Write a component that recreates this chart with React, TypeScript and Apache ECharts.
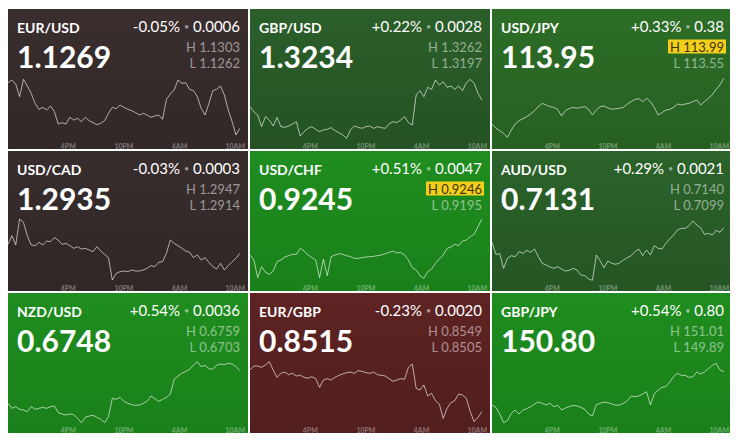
import React, { useEffect, useRef } from "react";
import * as echarts from "echarts";

const PAIRS = ["EUR/USD", "GBP/USD", "USD/JPY", "USD/CAD", "USD/CHF", "AUD/USD", "NZD/USD", "EUR/GBP", "GBP/JPY"];
const PRICES = ["1.1269", "1.3234", "113.95", "1.2935", "0.9245", "0.7131", "0.6748", "0.8515", "150.80"];
const CHANGE_PCT = ["-0.05%", "+0.22%", "+0.33%", "-0.03%", "+0.51%", "+0.29%", "+0.54%", "-0.23%", "+0.54%"];
const CHANGE_ABS = ["0.0006", "0.0028", "0.38", "0.0003", "0.0047", "0.0021", "0.0036", "0.0020", "0.80"];
const HIGHS = ["1.1303", "1.3262", "113.99", "1.2947", "0.9246", "0.7140", "0.6759", "0.8549", "151.01"];
const LOWS = ["1.1262", "1.3197", "113.55", "1.2914", "0.9195", "0.7099", "0.6703", "0.8505", "149.89"];
const HIGH_HIT = [false, false, true, false, true, false, false, false, false];

const TIME_TICKS = [6, 12, 18, 24];
const TIME_LABELS = ["4PM", "10PM", "4AM", "10AM"];

const BG_TOP = ["#3a2e2e", "#2b5f2a", "#2d6e27", "#382d2d", "#1f8d1f", "#2b632a", "#1f8d1f", "#5e2323", "#1f8d1f"];
const BG_BOTTOM = ["#322828", "#245224", "#266021", "#302727", "#1a801a", "#255524", "#1a801a", "#521e1e", "#1a801a"];

const Y_MIN = [1.1266, 1.3188, 113.53, 1.29118, 0.91897, 0.71038, 0.67034, 0.85116, 149.888];
const Y_MAX = [1.13074, 1.32708, 114.0475, 1.29532, 0.92518, 0.71452, 0.67655, 0.8553, 151.13];

const EURUSD = [
  1.13004, 1.1302, 1.12996, 1.1292, 1.13024, 1.12984, 1.1294, 1.1288, 1.12844, 1.12856,
  1.1284, 1.12864, 1.1283, 1.12756, 1.12764, 1.12756, 1.12796, 1.1278, 1.1279, 1.1277,
  1.12796, 1.12776, 1.12764, 1.12752, 1.1276, 1.12776, 1.1282, 1.12856, 1.12848, 1.1287,
  1.12856, 1.12844, 1.12836, 1.12824, 1.1281, 1.1282, 1.1281, 1.12796, 1.12804, 1.1281,
  1.12784, 1.12904, 1.12936, 1.1296, 1.1302, 1.13, 1.13004, 1.12964, 1.12956, 1.1292,
  1.1285, 1.1281, 1.1288, 1.12956, 1.12964, 1.12984, 1.1293, 1.1284, 1.1277, 1.1269,
  1.1273,
];
const GBPUSD = [
  1.3228, 1.3222, 1.3218, 1.3204, 1.3216, 1.3212, 1.32048, 1.32152, 1.3204, 1.32032,
  1.32048, 1.32072, 1.321, 1.31928, 1.3198, 1.3202, 1.3204, 1.32008, 1.3198, 1.32,
  1.32008, 1.32028, 1.31992, 1.31968, 1.3194, 1.319, 1.32, 1.32048, 1.32032, 1.3202,
  1.3204, 1.32048, 1.3202, 1.3204, 1.32028, 1.3202, 1.32072, 1.321, 1.32088, 1.3212,
  1.3216, 1.32088, 1.3206, 1.3242, 1.32472, 1.324, 1.32512, 1.32488, 1.326, 1.3254,
  1.3258, 1.32512, 1.32528, 1.32488, 1.32528, 1.32472, 1.32568, 1.32608, 1.3256, 1.3244,
  1.3236,
];
const USDJPY = [
  113.65, 113.618, 113.6, 113.58, 113.55, 113.605, 113.65, 113.675, 113.69, 113.705,
  113.725, 113.75, 113.78, 113.805, 113.793, 113.78, 113.775, 113.76, 113.71, 113.75,
  113.765, 113.775, 113.768, 113.775, 113.78, 113.76, 113.718, 113.755, 113.78, 113.785,
  113.77, 113.76, 113.765, 113.768, 113.775, 113.8, 113.818, 113.835, 113.84, 113.818,
  113.843, 113.818, 113.775, 113.718, 113.735, 113.755, 113.76, 113.775, 113.8, 113.793,
  113.8, 113.805, 113.818, 113.83, 113.793, 113.818, 113.843, 113.868, 113.91, 113.943,
  113.993,
];
const USDCAD = [
  1.29344, 1.29396, 1.2934, 1.29496, 1.29476, 1.29396, 1.2934, 1.29336, 1.29356, 1.2934,
  1.29364, 1.2936, 1.29384, 1.2937, 1.29344, 1.2935, 1.29336, 1.2932, 1.2933, 1.29316,
  1.2932, 1.2931, 1.293, 1.2933, 1.29304, 1.29284, 1.29264, 1.2913, 1.2917, 1.2918,
  1.29184, 1.2918, 1.2919, 1.29184, 1.29184, 1.2919, 1.292, 1.29216, 1.2921, 1.29236,
  1.2924, 1.2929, 1.2937, 1.2935, 1.29336, 1.2932, 1.29304, 1.29296, 1.29264, 1.2928,
  1.2925, 1.29264, 1.29236, 1.2921, 1.29196, 1.2923, 1.2919, 1.29216, 1.2924, 1.2926,
  1.2929,
];
const USDCHF = [
  0.9214, 0.92095, 0.91936, 0.92035, 0.91984, 0.91966, 0.91996, 0.9208, 0.92095, 0.92122,
  0.92134, 0.92146, 0.92146, 0.922, 0.92176, 0.9214, 0.92116, 0.92095, 0.91936, 0.92104,
  0.91954, 0.92125, 0.9214, 0.92152, 0.92146, 0.92134, 0.92125, 0.9211, 0.9211, 0.92116,
  0.92122, 0.92125, 0.92128, 0.92134, 0.9214, 0.92152, 0.92164, 0.92176, 0.92158, 0.92164,
  0.9214, 0.92095, 0.92026, 0.92005, 0.91954, 0.9193, 0.9199, 0.92014, 0.92065, 0.92104,
  0.9214, 0.922, 0.92212, 0.92236, 0.92224, 0.92266, 0.92275, 0.92305, 0.92326, 0.92395,
  0.92464,
];
const AUDUSD = [
  0.71276, 0.71204, 0.71208, 0.7112, 0.7118, 0.71196, 0.7119, 0.7122, 0.7121, 0.71228,
  0.71216, 0.71236, 0.7119, 0.7115, 0.7114, 0.71128, 0.7112, 0.7113, 0.71116, 0.71104,
  0.71108, 0.7112, 0.7111, 0.7108, 0.71076, 0.71056, 0.71048, 0.712, 0.71164, 0.71124,
  0.71164, 0.7115, 0.71144, 0.71152, 0.7117, 0.71184, 0.71196, 0.7122, 0.71236, 0.71196,
  0.7123, 0.712, 0.71256, 0.7124, 0.71236, 0.7127, 0.71296, 0.7132, 0.7135, 0.7136,
  0.7136, 0.71376, 0.71404, 0.7138, 0.71364, 0.71324, 0.7133, 0.7132, 0.71348, 0.71336,
  0.71364,
];
const NZDUSD = [
  0.6722, 0.67175, 0.6719, 0.67166, 0.6716, 0.67145, 0.6719, 0.67166, 0.67175, 0.67184,
  0.67175, 0.6719, 0.67196, 0.67136, 0.67124, 0.67115, 0.67124, 0.67118, 0.67085, 0.67046,
  0.67094, 0.67106, 0.67112, 0.67094, 0.67076, 0.67046, 0.671, 0.67265, 0.67256, 0.67274,
  0.67238, 0.6722, 0.67208, 0.67202, 0.67205, 0.6722, 0.67238, 0.67286, 0.67262, 0.67238,
  0.67256, 0.67274, 0.67304, 0.67436, 0.67466, 0.6749, 0.67508, 0.67526, 0.67565, 0.67595,
  0.6755, 0.67562, 0.67532, 0.67526, 0.67562, 0.67574, 0.67568, 0.6758, 0.67574, 0.6755,
  0.67514,
];
const EURGBP = [
  0.8544, 0.85464, 0.85464, 0.85456, 0.8547, 0.8549, 0.8544, 0.85396, 0.8542, 0.85428,
  0.85412, 0.8542, 0.85404, 0.8541, 0.85396, 0.8539, 0.854, 0.85388, 0.85336, 0.8538,
  0.85388, 0.8538, 0.85396, 0.85408, 0.85416, 0.85424, 0.85428, 0.8542, 0.85436, 0.85432,
  0.85424, 0.8542, 0.85428, 0.85412, 0.85408, 0.85404, 0.85388, 0.85372, 0.8538, 0.85388,
  0.85384, 0.85456, 0.85476, 0.8533, 0.8532, 0.8535, 0.85284, 0.853, 0.85256, 0.85236,
  0.8515, 0.8521, 0.85244, 0.85256, 0.85296, 0.8529, 0.8527, 0.8519, 0.8513, 0.85156,
  0.8519,
];
const GBPJPY = [
  150.23, 150.188, 150.068, 149.912, 149.948, 150.08, 150.14, 150.068, 150.14, 150.164,
  150.2, 150.248, 150.284, 150.26, 150.23, 150.26, 150.2, 150.224, 150.14, 150.176,
  150.2, 150.224, 150.212, 150.188, 150.152, 150.068, 150.032, 150.236, 150.26, 150.284,
  150.272, 150.248, 150.224, 150.23, 150.26, 150.308, 150.392, 150.38, 150.392, 150.428,
  150.47, 150.23, 150.428, 150.5, 150.548, 150.56, 150.644, 150.74, 150.8, 150.764,
  150.764, 150.728, 150.74, 150.824, 150.788, 150.824, 150.884, 150.944, 150.98, 150.86,
  150.83,
];

const SERIES = [EURUSD, GBPUSD, USDJPY, USDCAD, USDCHF, AUDUSD, NZDUSD, EURGBP, GBPJPY];

// sampling times, hours after 10AM (one sample every 25 minutes)
const X_MIN = -0.5;
const X_MAX = 24.5;
const HOURS = EURUSD.map((_, i) => X_MIN + (i * (X_MAX - X_MIN)) / (EURUSD.length - 1));

const TILE_W = 240;
const TILE_H = 140;

function buildOption(i: number): any {
  const hit = HIGH_HIT[i];
  const grey = "rgba(255,255,255,0.5)";
  return {
    animation: false,
    backgroundColor: {
      type: "linear",
      x: 0,
      y: 0,
      x2: 0,
      y2: 1,
      colorStops: [
        { offset: 0, color: BG_TOP[i] },
        { offset: 1, color: BG_BOTTOM[i] },
      ],
    },
    grid: { left: 0, right: 0, top: 62, bottom: 9 },
    xAxis: {
      type: "value",
      min: X_MIN,
      max: X_MAX,
      splitLine: { show: false },
      axisLine: { show: false },
      axisTick: { show: false },
      axisLabel: {
        customValues: TIME_TICKS,
        formatter: (v: number) => {
          const k = TIME_TICKS.indexOf(Math.round(v));
          return k >= 0 ? TIME_LABELS[k] : "";
        },
        fontSize: 7,
        fontWeight: "bold",
        fontFamily: "Lato",
        color: "rgba(255,255,255,0.38)",
        margin: 2,
        hideOverlap: false,
      },
    },
    yAxis: { type: "value", min: Y_MIN[i], max: Y_MAX[i], show: false },
    series: [
      {
        type: "line",
        data: HOURS.map((h, k) => [h, SERIES[i][k]]),
        showSymbol: false,
        symbol: "none",
        silent: true,
        lineStyle: { color: "rgba(255,255,255,0.62)", width: 1 },
      },
    ],
    graphic: {
      elements: [
        {
          type: "text",
          x: 9,
          y: 18,
          style: {
            text: PAIRS[i],
            fill: "#ffffff",
            font: "bold 14px Lato",
            verticalAlign: "middle",
            textVerticalAlign: "middle",
          },
        },
        {
          type: "text",
          x: 9,
          y: 47,
          style: {
            text: PRICES[i],
            fill: "#ffffff",
            font: "bold 30px Lato",
            verticalAlign: "middle",
            textVerticalAlign: "middle",
          },
        },
        {
          type: "text",
          x: 232,
          y: 17,
          style: {
            text: `{v|${CHANGE_PCT[i]}} {d|•} {v|${CHANGE_ABS[i]}}`,
            font: "15px Lato",
            fill: "#ffffff",
            align: "right",
            textAlign: "right",
            verticalAlign: "middle",
            textVerticalAlign: "middle",
            rich: {
              v: { fontSize: 15, fontFamily: "Lato", fill: "#ffffff", color: "#ffffff" },
              d: { fontSize: 9, fontFamily: "Lato", fill: grey, color: grey },
            },
          },
        },
        {
          type: "text",
          x: hit ? 234 : 232,
          y: 37.5,
          style: {
            text: `H ${HIGHS[i]}`,
            font: "13px Lato",
            fill: hit ? "#3d3408" : grey,
            align: "right",
            textAlign: "right",
            verticalAlign: "middle",
            textVerticalAlign: "middle",
            backgroundColor: hit ? "#f3cf1c" : undefined,
            padding: hit ? [1, 2, 0, 2] : undefined,
          },
        },
        {
          type: "text",
          x: 232,
          y: 53.5,
          style: {
            text: `L ${LOWS[i]}`,
            font: "13px Lato",
            fill: grey,
            align: "right",
            textAlign: "right",
            verticalAlign: "middle",
            textVerticalAlign: "middle",
          },
        },
      ],
    },
  };
}

function Tile({ idx }: { idx: number }) {
  const ref = useRef<HTMLDivElement>(null);
  useEffect(() => {
    if (!ref.current) return;
    const chart = echarts.init(ref.current, null, { renderer: "svg" });
    chart.setOption(buildOption(idx));
    return () => chart.dispose();
  }, [idx]);
  const col = idx % 3;
  const row = Math.floor(idx / 3);
  return (
    <div
      ref={ref}
      style={{
        position: "absolute",
        left: col * (TILE_W + 2),
        top: 1 + row * (TILE_H + 2),
        width: TILE_W,
        height: TILE_H,
        overflow: "hidden",
      }}
    />
  );
}

export default function App() {
  return (
    <div style={{ position: "relative", width: 724, height: 426 }}>
      {PAIRS.map((_, i) => (
        <Tile key={i} idx={i} />
      ))}
    </div>
  );
}
